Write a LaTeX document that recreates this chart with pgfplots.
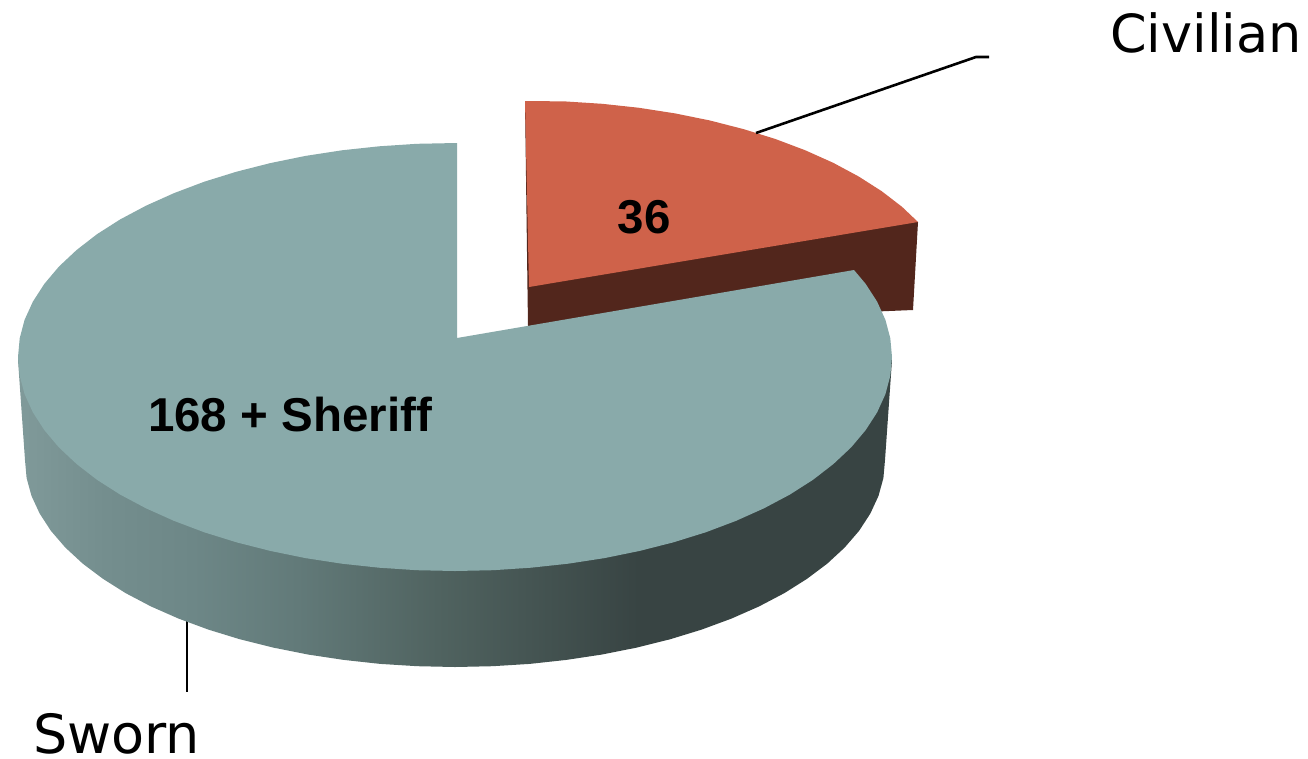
\documentclass[border=0pt]{standalone}
\usepackage{pgfplots}
\pgfplotsset{compat=1.18}
\usepackage{pgfplotstable}
\usepackage{fontspec}
\setmainfont{DejaVu Sans}
\newfontfamily\labelfont{Liberation Sans}[Scale=1.0]

\definecolor{swornTop}{HTML}{89AAAA}
\definecolor{civTop}{HTML}{CF624A}
\definecolor{civWall}{HTML}{52261C}
\definecolor{wallA}{HTML}{809A9A}
\definecolor{wallB}{HTML}{748E8E}
\definecolor{wallC}{HTML}{6D8787}
\definecolor{wallD}{HTML}{627A79}
\definecolor{wallE}{HTML}{506360}
\definecolor{wallF}{HTML}{384443}

% x px 18..892 maps to 25bp..75bp of the shading
\pgfdeclarehorizontalshading{swornwall}{100bp}{
  color(0bp)=(wallA); color(25bp)=(wallA); color(30bp)=(wallB);
  color(35bp)=(wallC); color(41bp)=(wallD); color(49bp)=(wallE);
  color(60.5bp)=(wallF); color(100bp)=(wallF)}

% pixel outlines
\pgfplotstableread{
x y
18 360
25 460
26.6 478
31.5 495.9
39.7 513.6
50.9 530.8
65.3 547.5
82.6 563.5
102.8 578.7
125.6 593.1
150.9 606.4
178.6 618.6
208.4 629.6
240 639.3
273.3 647.6
307.9 654.5
343.7 659.9
380.3 663.9
417.5 666.2
455 667
492.5 666.2
529.7 663.9
566.3 659.9
602.1 654.5
636.7 647.6
670 639.3
701.6 629.6
731.4 618.6
759.1 606.4
784.4 593.1
807.2 578.7
827.4 563.5
844.7 547.5
859.1 530.8
870.3 513.6
878.5 495.9
883.4 478
885 460
892 360
}\swornwall

\pgfplotstableread{
x y
457 338
457 143
416.9 143.8
379.1 146.3
341.9 150.3
305.5 155.9
270.3 163.1
236.5 171.7
204.3 181.7
174.1 193.1
146 205.7
120.2 219.4
97 234.2
76.6 250
58.9 266.6
44.4 283.8
32.9 301.6
24.6 319.8
19.7 338.3
18 357
19.7 375.7
24.6 394.2
32.9 412.4
44.4 430.2
58.9 447.4
76.6 464
97 479.8
120.2 494.6
146 508.3
174.1 520.9
204.3 532.3
236.5 542.3
270.3 550.9
305.5 558.1
341.9 563.7
379.1 567.7
416.9 570.2
455 571
493.1 570.2
530.9 567.7
568.1 563.7
604.5 558.1
639.7 550.9
673.5 542.3
705.7 532.3
735.9 520.9
764 508.3
789.8 494.6
813 479.8
833.4 464
851.1 447.4
865.6 430.2
877.1 412.4
885.4 394.2
890.3 375.7
892 357
890.3 338.3
885.4 319.8
877.1 301.6
865.6 283.8
854 270
}\sworntop

\pgfplotstableread{
x y
525 101
564.8 101.4
602.2 103.8
639.1 107.8
675.1 113.4
710 120.5
743.5 129.1
775.4 139
805.3 150.3
833.2 162.8
858.7 176.5
881.7 191.2
902 206.8
918 222
529 287
}\civtop

\begin{document}
\begin{tikzpicture}
\begin{axis}[
  width=1308pt, height=758pt, scale only axis,
  xmin=0, xmax=1308, ymin=0, ymax=758,
  y dir=reverse,
  hide axis,
  clip=false,
]
\path (rel axis cs:0,0) rectangle (rel axis cs:1,1);
% civilian slice, wall then top
\addplot[draw=none, fill=civWall, no markers] coordinates {
  (525,101) (527.5,290) (528,326) (913,310) (918,222)};
\addplot[draw=none, fill=civTop, no markers] table {\civtop};
% leader lines
\addplot[black, line width=2.6pt, no markers] coordinates {(756,133) (976,57) (989,57)};
\addplot[black, line width=2.6pt, no markers] coordinates {(187,619) (187,692)};
% sworn slice
\addplot[draw=none, shade, shading=swornwall, no markers] table {\swornwall};
\addplot[draw=none, fill=swornTop, no markers] table {\sworntop};
% labels
\node[anchor=base west, inner sep=0pt, font=\fontsize{52.5}{54}\selectfont] at (axis cs:1110,52) {Civilian};
\node[anchor=base west, inner sep=0pt, font=\fontsize{54}{54}\selectfont] at (axis cs:33,753) {Sworn};
\node[anchor=base, inner sep=0pt, font=\labelfont\bfseries\fontsize{47.5}{50}\selectfont] at (axis cs:290,431) {168 + Sheriff};
\node[anchor=base, inner sep=0pt, font=\labelfont\bfseries\fontsize{47.5}{50}\selectfont] at (axis cs:644,233) {36};
\end{axis}
\end{tikzpicture}
\end{document}
